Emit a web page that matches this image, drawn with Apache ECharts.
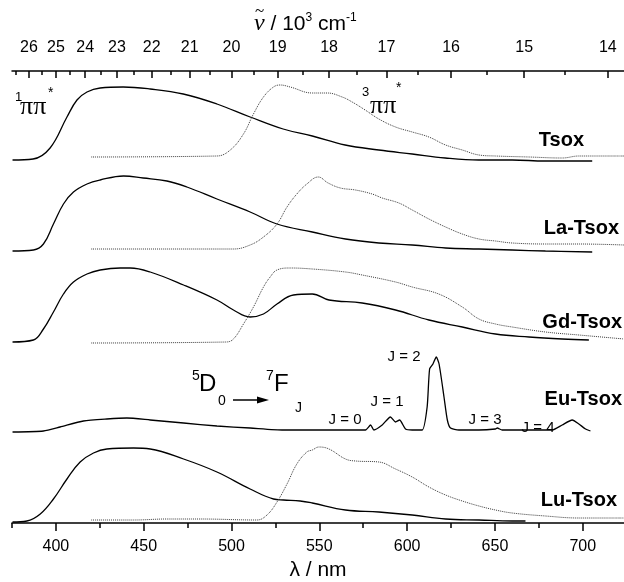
<!DOCTYPE html>
<html>
<head>
<meta charset="utf-8">
<script src="https://cdn.jsdelivr.net/npm/echarts@6.0.0/dist/echarts.min.js"></script>
<style>
  html, body { margin: 0; padding: 0; background: #fff; }
  #chart { width: 624px; height: 582px; }
</style>
</head>
<body>
<div id="chart"></div>
<script>
// wavelength ticks (nm) and wavenumber ticks (10^3 cm-1)
var nmMajor = [400, 450, 500, 550, 600, 650, 700];
var nmMinor = [375, 425, 475, 525, 575, 625, 675];
var wnMajor = [26, 25, 24, 23, 22, 21, 20, 19, 18, 17, 16, 15, 14];
var wnMinor = [26.5, 25.5, 24.5, 23.5, 22.5, 21.5, 20.5, 19.5, 18.5, 17.5, 16.5, 15.5, 14.5];

// spectra, [nm, offset intensity]; solid = excitation, dotted = emission
var tsoxExc = [[375.3,363],[387,364],[396.7,375],[406.3,406],[412,423],[417.7,431],[425.2,435],[438.3,436],[453.7,434],[472.5,429],[491.7,419],[510.6,406],[529.4,394],[546,387],[564.7,378],[583.9,373],[602.9,369],[621.7,365],[640.8,363],[659.8,363],[678.6,362],[705.4,362]];
var tsoxEm = [[420.1,366],[491.7,367],[499.3,373],[506.8,389],[512.5,409],[518.2,426],[523.9,436],[527.7,438],[533.4,436],[546,430],[554.5,430],[563,426],[568.7,421],[576.1,413],[583.9,404],[593.4,396],[602.9,391],[612.4,386],[621.9,378],[631.4,373],[640.9,368],[650.3,367],[669.4,366],[688.3,365],[697.8,367],[723.6,367]];
var laExc = [[375.3,272],[387.2,273],[392.9,279],[398.6,299],[404.3,319],[410,331],[417.7,339],[425.2,343],[438.5,347],[449.7,345],[463.2,342],[474.6,336],[491.7,324],[510.6,311],[525.9,299],[546,291],[564.9,284],[583.9,280],[602.9,278],[621.9,275],[640.9,274],[659.8,273],[678.8,272],[705.4,271]];
var laEm = [[420.1,274],[501.1,274],[510.6,278],[518.2,286],[525.9,299],[531.6,316],[537.2,329],[542.9,339],[549.4,346],[555,340],[562,335],[570.6,333],[580.1,329],[585.8,325],[595.3,320],[602.9,313],[612.4,304],[621.9,296],[631.4,289],[640.9,284],[650.3,282],[659.8,280],[678.8,279],[697.8,279],[723.6,278]];
var gdExc = [[375.3,181],[387.2,183],[392.9,194],[398.6,211],[404.3,229],[410,241],[417.7,249],[425.2,253],[436.6,255],[442.3,255],[453.7,251],[472.7,238],[491.7,223],[501.1,213],[510.6,206],[518.2,209],[525.9,219],[535.3,228],[546,229],[555.5,223],[574.4,220],[593.4,213],[612.4,203],[631.4,196],[650.3,189],[669.4,186],[688.3,184],[703.5,183]];
var gdEm = [[420.1,180],[497,181],[501.1,184],[506.8,199],[512.5,216],[518.2,236],[522,246],[525.9,253],[533.4,255],[546,254],[564.9,251],[574.4,248],[593.4,241],[602.9,236],[618,229],[631.4,216],[640.9,204],[650.3,199],[659.8,196],[678.8,191],[697.8,188],[723.6,184]];
var euEm = [[375.3,91],[392.9,92],[402.4,96],[415.7,102],[429,104],[440.4,105],[453.7,103],[472.7,100],[491.7,97],[510.6,95],[529.6,93],[546,93],[576.3,93],[579.2,98],[581.1,93],[585.8,98],[590.5,106],[593.4,101],[595.7,103],[599.1,94],[602.9,93],[608.6,93],[611.4,116],[612.8,154],[614.7,159],[616.6,166],[618.2,159],[621,126],[622.9,103],[624.7,95],[629.5,93],[640.9,93],[650.3,94],[651.3,95],[654.1,93],[669.4,93],[682.7,93],[688.3,98],[694,103],[697.8,99],[701.6,94],[704.4,92]];
var luExc = [[375.3,1],[383.5,2],[391.1,9],[398.6,24],[406.3,44],[413.8,61],[421.4,70],[429,74],[444.2,75],[453.7,74],[472.7,64],[491.7,51],[510.6,34],[523.9,24],[529.6,23],[539.1,22],[546,20],[564.9,13],[583.9,11],[602.9,8],[621.9,4],[640.9,3],[659.8,2],[667.4,2]];
var luEm = [[420.1,3],[444.2,3],[463.2,4],[482.2,4],[514.5,3],[520.2,8],[525.9,21],[531.6,39],[537.2,59],[542.9,71],[546,73],[549.8,76],[555.5,74],[564.9,64],[570.6,62],[583.9,61],[593.4,54],[602.9,46],[612.4,36],[621.9,28],[631.4,22],[640.9,17],[650.3,13],[659.8,10],[678.8,7],[697.8,5],[723.6,5]];

var sans = "'Liberation Sans', Arial, sans-serif";
var serif = "'Liberation Serif', 'Times New Roman', serif";
var chart = echarts.init(document.getElementById("chart"), null, { renderer: "canvas" });

function toNm(v) {
  return 10000 / v;
}

function spectrum(data, dotted, smooth) {
  return {
    type: "line",
    data: data,
    showSymbol: false,
    silent: true,
    smooth: smooth,
    lineStyle: dotted
      ? { color: "#3a3a3a", width: 1, type: [1, 1] }
      : { color: "#000", width: 1.3 },
  };
}

function txt(x, y, text, size, opts) {
  opts = opts || {};
  return {
    type: "text",
    x: x,
    y: y,
    silent: true,
    style: {
      text: text,
      fill: "#000",
      font: (opts.style || "normal") + " " + (opts.weight || "normal") + " " + size + "px " + (opts.family || sans),
      textAlign: opts.align || "left",
      textVerticalAlign: "middle",
      rich: opts.rich,
    },
  };
}

var axisCommon = {
  type: "value",
  min: 375,
  max: 723.5,
  splitLine: { show: false },
};

var opt = {
  animation: false,
  backgroundColor: "#fff",
  grid: { left: 12, right: 0, top: 71, bottom: 59, containLabel: false, outerBoundsMode: "none" },
  xAxis: [
    Object.assign({}, axisCommon, {
      position: "bottom",
      axisLine: { show: true, lineStyle: { color: "#000", width: 1.5 } },
      axisTick: { customValues: nmMajor, length: 8, lineStyle: { color: "#000", width: 1.5 } },
      axisLabel: { customValues: nmMajor, color: "#000", fontSize: 16, fontFamily: sans, margin: 16 },
      name: "λ / nm",
      nameLocation: "middle",
      nameGap: 37,
      nameTextStyle: { color: "#000", fontSize: 21, fontFamily: sans },
    }),
    Object.assign({}, axisCommon, {
      position: "bottom",
      axisLine: { show: false },
      axisTick: { customValues: nmMinor, length: 5, lineStyle: { color: "#000", width: 1.5 } },
      axisLabel: { show: false },
    }),
    Object.assign({}, axisCommon, {
      position: "top",
      axisLine: { show: true, lineStyle: { color: "#000", width: 1.5 } },
      axisTick: { customValues: wnMajor.map(toNm), inside: true, length: 7, lineStyle: { color: "#000", width: 1.5 } },
      axisLabel: {
        customValues: wnMajor.map(toNm),
        color: "#000",
        fontSize: 16,
        fontFamily: sans,
        margin: 15,
        formatter: function (v) {
          return String(Math.round(10000 / v));
        },
      },
    }),
    Object.assign({}, axisCommon, {
      position: "top",
      axisLine: { show: false },
      axisTick: { customValues: wnMinor.map(toNm), inside: true, length: 4, lineStyle: { color: "#000", width: 1.5 } },
      axisLabel: { show: false },
    }),
  ],
  yAxis: { type: "value", min: 0, max: 452, show: false },
  series: [
    spectrum(tsoxExc, false, 0.4),
    spectrum(tsoxEm, true, 0.4),
    spectrum(laExc, false, 0.4),
    spectrum(laEm, true, 0.4),
    spectrum(gdExc, false, 0.4),
    spectrum(gdEm, true, 0.4),
    spectrum(euEm, false, 0.2),
    spectrum(luExc, false, 0.4),
    spectrum(luEm, true, 0.4),
  ],
  graphic: [
    // top axis title: nu-tilde / 10^3 cm^-1
    txt(254, 24, "{v|ν} / 10{sup|3} cm{sup|-1}", 21, {
      rich: {
        v: { fontSize: 24, fontStyle: "italic", fontFamily: serif, lineHeight: 24 },
        sup: { fontSize: 12, lineHeight: 24, verticalAlign: "top" },
      },
    }),
    txt(255, 12, "~", 17, { family: serif }),
    txt(584, 140, "Tsox", 20, { weight: "bold", align: "right" }),
    txt(619, 228, "La-Tsox", 20, { weight: "bold", align: "right" }),
    txt(622, 322, "Gd-Tsox", 20, { weight: "bold", align: "right" }),
    txt(622, 399, "Eu-Tsox", 20, { weight: "bold", align: "right" }),
    txt(617, 500, "Lu-Tsox", 20, { weight: "bold", align: "right" }),
    // singlet / triplet labels
    txt(15, 97, "1", 13),
    txt(20, 107, "ππ", 26, { family: serif }),
    txt(48, 93, "*", 14),
    txt(362, 92, "3", 13),
    txt(370, 106, "ππ", 26, { family: serif }),
    txt(396, 88, "*", 14),
    // 5D0 -> 7FJ
    txt(192, 376, "5", 14),
    txt(199, 384, "D", 24),
    txt(218, 401, "0", 14),
    {
      type: "line",
      silent: true,
      shape: { x1: 233, y1: 400, x2: 260, y2: 400 },
      style: { stroke: "#000", lineWidth: 1.5 },
    },
    {
      type: "polygon",
      silent: true,
      shape: { points: [[257, 396.5], [269, 400], [257, 403.5]] },
      style: { fill: "#000" },
    },
    txt(266, 376, "7", 14),
    txt(274, 384, "F", 24),
    txt(295, 408, "J", 14),
    // Eu transitions
    txt(345, 420, "J = 0", 15, { align: "center" }),
    txt(387, 402, "J = 1", 15, { align: "center" }),
    txt(404, 357, "J = 2", 15, { align: "center" }),
    txt(485, 420, "J = 3", 15, { align: "center" }),
    txt(538, 428, "J = 4", 15, { align: "center" }),
  ],
};

chart.setOption(opt);
</script>
</body>
</html>
